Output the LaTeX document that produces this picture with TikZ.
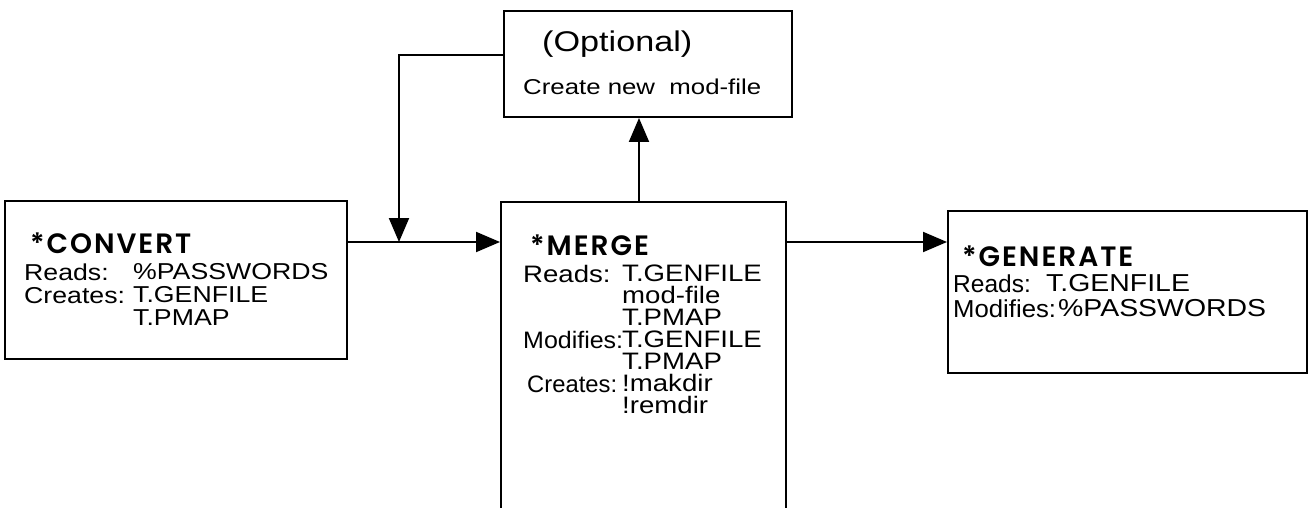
\documentclass[tikz,border=0pt]{standalone}
\usepackage{fontspec}
\setmainfont{Liberation Sans}[FakeStretch=1.16]
\newfontfamily\narrowfont{Liberation Sans}[FakeStretch=1.05]
\newfontfamily\tightfont{Liberation Sans}[FakeStretch=1.0]
\newfontfamily\optfont{Liberation Sans}[FakeStretch=1.2]
\newfontfamily\titlefont{Poppins SemiBold}[LetterSpace=7]
\usetikzlibrary{arrows.meta}
\tikzset{
  box/.style={draw, line width=2pt, rectangle, inner sep=0pt},
  col/.style={anchor=north west, inner sep=0pt, align=left},
  ttl/.style={anchor=base west, inner sep=0pt, font=\titlefont\fontsize{28}{28}\selectfont},
  conn/.style={line width=2pt},
  arr/.style={conn, -{Triangle[length=24pt,width=20pt]}}
}
\begin{document}
\begin{tikzpicture}[x=1pt, y=-1pt]
\useasboundingbox (0,0) rectangle (1312,508);
\clip (0,0) rectangle (1312,508);

% process boxes
\node[box, minimum width=342pt, minimum height=158pt] (conv) at (176,280) {};
\node[box, minimum width=288pt, minimum height=106pt] (opt) at (648,64) {};
\node[box, minimum width=285pt, minimum height=338pt] (merge) at (643.5,371) {};
\node[box, minimum width=359pt, minimum height=162pt] (gen) at (1127.5,292) {};

% CONVERT
\node[ttl] (convT) at (30,253) {*CONVERT};
\node[col, font=\fontsize{23}{23}\selectfont] (convL) at (24,263.5) {Reads:\\Creates:};
\node[col, font=\fontsize{23}{23}\selectfont] (convV) at (133,263.5)
  {\%PASSWORDS\\T.GENFILE\\T.PMAP};

% optional step
\node[anchor=base west, inner sep=0pt, font=\optfont\fontsize{28.5}{28}\selectfont] (optA) at (542,52) {(Optional)};
\node[anchor=base west, inner sep=0pt, font=\optfont\fontsize{21.5}{21}\selectfont] (optB) at (523,95) {Create new\ \ mod-file};

% MERGE
\node[ttl] (mergeT) at (530,255) {*MERGE};
\node[col, font=\fontsize{23.8}{22}\selectfont] (mergeL) at (523,265)
  {Reads:\\[44pt]{\narrowfont Modifies:}\\[22pt]\hspace*{4pt}{\tightfont Creates:}};
\node[col, font=\fontsize{23.8}{22}\selectfont] (mergeV) at (622,265)
  {T.GENFILE\\mod-file\\T.PMAP\\T.GENFILE\\T.PMAP\\!makdir\\!remdir};

% GENERATE
\node[ttl] (genT) at (962,266) {*GENERATE};
\node[col, font=\fontsize{24.5}{25}\selectfont] (genL) at (953,274.5)
  {{\tightfont Reads:}\\{\narrowfont Modifies:}};
\node[col, font=\fontsize{24.5}{25}\selectfont] (genV) at (1046,274.5)
  {T.GENFILE\\\hspace*{12pt}\%PASSWORDS};

% connectors
\coordinate (flow) at (399,242);
\coordinate (fb) at (399,55);
\coordinate (up) at (639,0);
\draw[arr] (conv.east |- flow) -- (merge.west |- flow);
\draw[arr] (opt.west |- fb) -- (fb) -- (flow);
\draw[arr] (merge.north -| up) -- (opt.south -| up);
\draw[arr] (merge.east |- flow) -- (gen.west |- flow);
\end{tikzpicture}
\end{document}
